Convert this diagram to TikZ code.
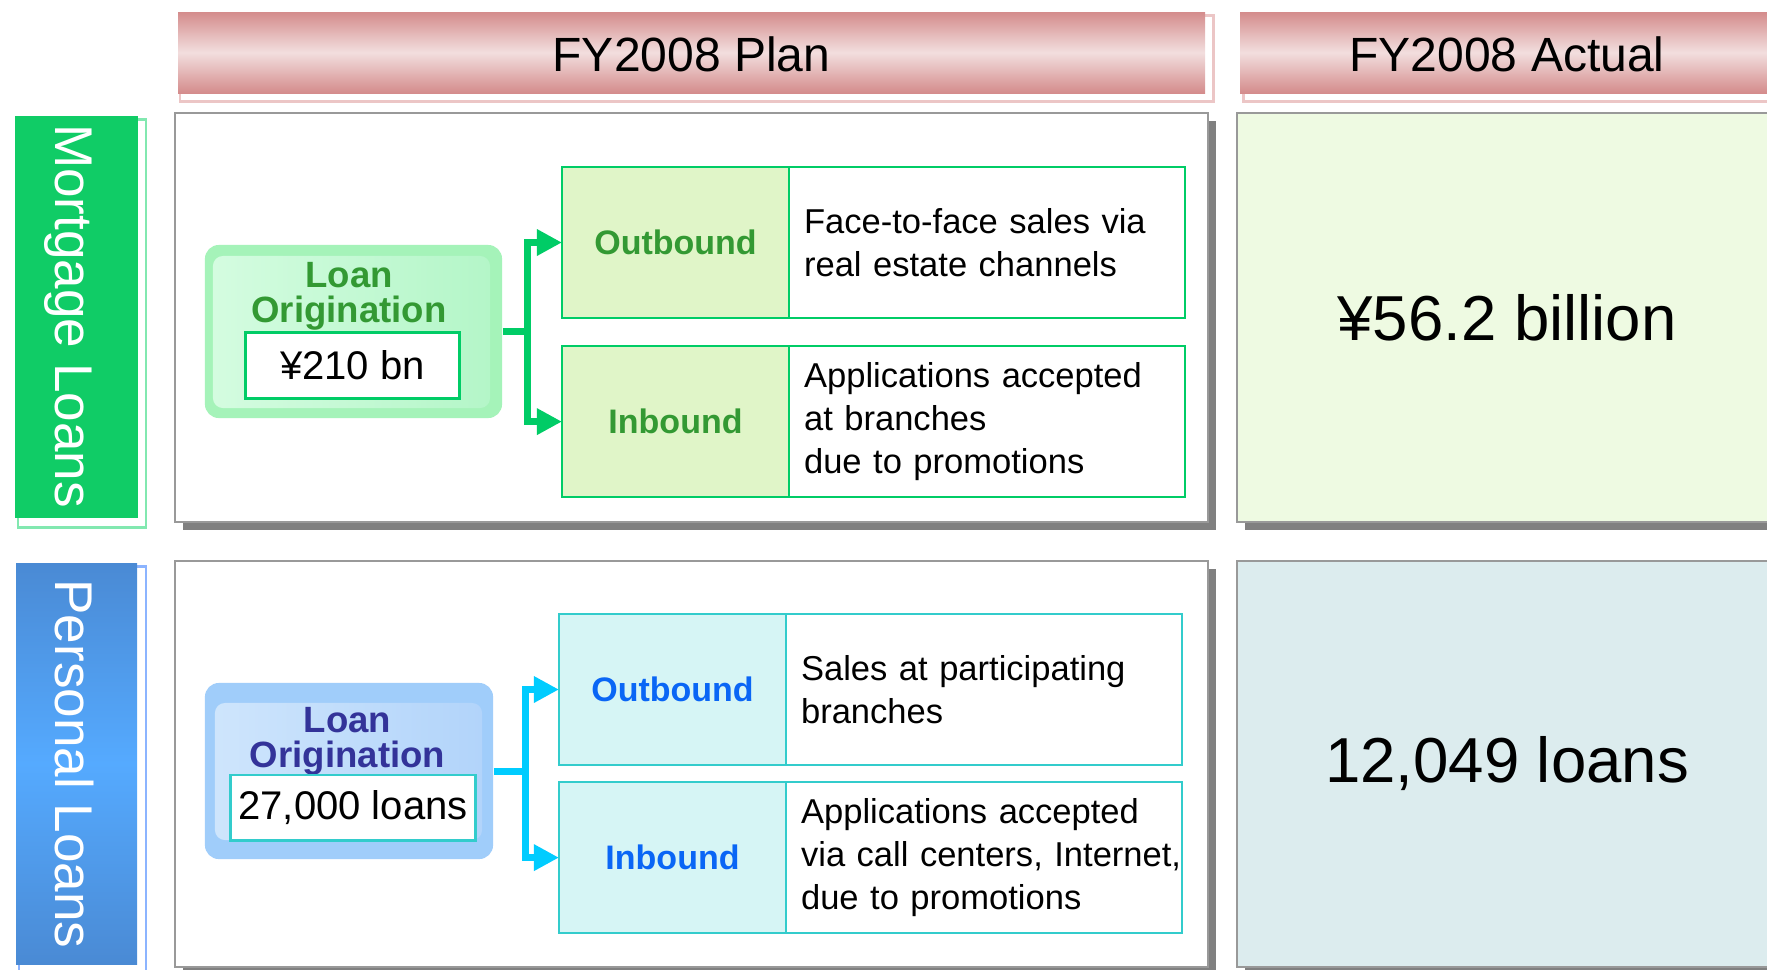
\documentclass[tikz,border=0pt]{standalone}
\usepackage{fontspec}
\setmainfont{Liberation Sans}
\usetikzlibrary{arrows.meta,calc,positioning,shadows}

\definecolor{hdrdark}{RGB}{212,140,140}
\definecolor{hdrlight}{RGB}{242,222,222}
\definecolor{hdrrim}{RGB}{236,198,198}
\definecolor{mgreen}{RGB}{16,204,102}
\definecolor{mrim}{RGB}{130,232,176}
\definecolor{pbluelight}{RGB}{85,170,255}
\definecolor{pbluedark}{RGB}{74,138,212}
\definecolor{prim}{RGB}{140,180,255}
\definecolor{panelline}{RGB}{153,153,153}
\definecolor{panelshadow}{RGB}{128,128,128}
\definecolor{mactfill}{RGB}{238,250,226}
\definecolor{pactfill}{RGB}{220,236,238}
\definecolor{mline}{RGB}{0,204,102}
\definecolor{mcellfill}{RGB}{224,245,200}
\definecolor{mtext}{RGB}{51,153,51}
\definecolor{moutfill}{RGB}{165,243,185}
\definecolor{minA}{RGB}{212,252,224}
\definecolor{minB}{RGB}{180,246,200}
\definecolor{pline}{RGB}{51,204,204}
\definecolor{parrow}{RGB}{0,204,255}
\definecolor{pcellfill}{RGB}{214,245,245}
\definecolor{ptext}{RGB}{10,102,245}
\definecolor{ptitle}{RGB}{51,51,153}
\definecolor{poutfill}{RGB}{160,205,250}
\definecolor{pinA}{RGB}{206,229,252}
\definecolor{pinB}{RGB}{178,212,250}

\newcommand{\fpx}[2]{\fontsize{#1}{#2}\selectfont}

\tikzset{
  hdrtext/.style={font=\fpx{13.66}{16}, inner sep=0pt},
  sidetext/.style={font=\fpx{15.1}{18}, text=white, rotate=-90, inner sep=0pt},
  panelbox/.style={draw=panelline, line width=0.57pt, fill=white, inner sep=0pt, outer sep=0pt,
    drop shadow={shadow xshift=0.08cm, shadow yshift=-0.08cm, opacity=1, fill=panelshadow}},
  bignum/.style={font=\fpx{18.07}{22}},
  loanbox/.style={rounded corners=0.14cm, inner sep=0pt},
  loantitle/.style={font=\bfseries\fpx{10.4}{9.96}, align=center, inner sep=0pt},
  valbox/.style={draw, fill=white, line width=0.85pt, font=\fpx{11.38}{14}, inner sep=0pt, outer sep=0pt},
  chancell/.style={draw, line width=0.57pt, font=\bfseries\fpx{9.67}{12}, inner sep=0pt, outer sep=0pt,
    minimum width=2.27cm, minimum height=1.51cm},
  chandesc/.style={draw, line width=0.57pt, font=\fpx{9.82}{12.23}, align=left, text width=3.96cm,
    inner sep=0pt, outer sep=0pt, minimum height=1.51cm,
    execute at begin node={\leftskip=0.15cm\hyphenpenalty=10000\relax}},
  forklink/.style={line width=2pt},
  forkarrow/.style={-{Triangle[length=0.25cm,width=0.25cm]}}
}

\begin{document}
\begin{tikzpicture}[x=0.01cm,y=-0.01cm]
\useasboundingbox (0,0) rectangle (1767,969);
\clip (0,0) rectangle (1767,969);

% headers
\draw[hdrrim, line width=0.85pt] (180,15) rectangle (1213,101);
\draw[hdrrim, line width=0.85pt] (1243,15) rectangle (1800,101);
\shade[top color=hdrdark, bottom color=hdrdark, middle color=hdrlight] (178,12) rectangle (1205,93);
\shade[top color=hdrdark, bottom color=hdrdark, middle color=hdrlight] (1240,12) rectangle (1780,93);
\node[hdrtext, anchor=base] (plan) at (691.5,71) {FY2008 Plan};
\node[hdrtext, anchor=base] (actual) at (1507,71) {FY2008 Actual};

% side bars
\draw[mrim, line width=0.85pt] (18,119) rectangle (146,527);
\fill[mgreen] (15,116) rectangle (138,518);
\node[sidetext, anchor=base] (mside) at (55,316) {Mortgage Loans};
\draw[prim, line width=0.85pt] (19,566) rectangle (146,980);
\shade[top color=pbluedark, bottom color=pbluedark, middle color=pbluelight] (16,563) rectangle (137,964);
\node[sidetext, anchor=base] (pside) at (55,764) {Personal Loans};

% panels
\node[panelbox, minimum width=10.33cm, minimum height=4.09cm] (mplan) at (691.5,317.5) {};
\node[panelbox, fill=mactfill, minimum width=5.4cm, minimum height=4.09cm, bignum] (mact) at (1507,317.5) {¥56.2 billion};
\node[panelbox, minimum width=10.33cm, minimum height=4.06cm] (pplan) at (691.5,764) {};
\node[panelbox, fill=pactfill, minimum width=5.4cm, minimum height=4.06cm, bignum] (pact) at (1507,764) {12,049 loans};

% mortgage loans
\node[loanbox, fill=moutfill, minimum width=2.97cm, minimum height=1.73cm] (mloan) at (353.5,331.5) {};
\node[loanbox, rounded corners=0.1cm, left color=minA, right color=minB, minimum width=2.77cm, minimum height=1.52cm] (mloanin) at (351.5,332) {};
\node[loantitle, text=mtext] (mloantxt) at (349,296) {Loan\\Origination};
\node[valbox, draw=mline, minimum width=2.13cm, minimum height=0.65cm] (mval) at (352.5,365.5) {¥210 bn};

\node[chancell, draw=mline, fill=mcellfill, text=mtext] (moutb) at (675.5,242.5) {Outbound};
\node[chandesc, draw=mline, right=0pt of moutb] (moutbd) {Face-to-face sales via\\real estate channels};
\node[chancell, draw=mline, fill=mcellfill, text=mtext, below=0.28cm of moutb] (minb) {Inbound};
\node[chandesc, draw=mline, right=0pt of minb] (minbd) {Applications accepted\\at branches\\due to promotions};

\draw[forklink, mline] (mloan.east) -- ++(25,0) coordinate (mfork);
\draw[forklink, mline, forkarrow] (mfork) |- (moutb.west);
\draw[forklink, mline, forkarrow] (mfork) |- (minb.west);

% personal loans
\node[loanbox, fill=poutfill, minimum width=2.88cm, minimum height=1.76cm] (ploan) at (349,771) {};
\node[loanbox, rounded corners=0.1cm, left color=pinA, right color=pinB, minimum width=2.67cm, minimum height=1.37cm] (ploanin) at (348.5,771.5) {};
\node[loantitle, text=ptitle] (ploantxt) at (347.5,741) {Loan\\Origination};
\node[valbox, draw=pline, minimum width=2.44cm, minimum height=0.65cm] (pval) at (353,807.5) {27,000 loans};

\node[chancell, draw=pline, fill=pcellfill, text=ptext] (poutb) at (672.5,689.5) {Outbound};
\node[chandesc, draw=pline, right=0pt of poutb] (poutbd) {Sales at participating\\branches};
\node[chancell, draw=pline, fill=pcellfill, text=ptext, below=0.17cm of poutb] (pinb) {Inbound};
\node[chandesc, draw=pline, right=0pt of pinb] (pinbd) {Applications accepted\\via call centers, Internet,\\due to promotions};

\draw[forklink, parrow] (ploan.east) -- ++(32,0) coordinate (pfork);
\draw[forklink, parrow, forkarrow] (pfork) |- (poutb.west);
\draw[forklink, parrow, forkarrow] (pfork) |- (pinb.west);
\end{tikzpicture}
\end{document}
